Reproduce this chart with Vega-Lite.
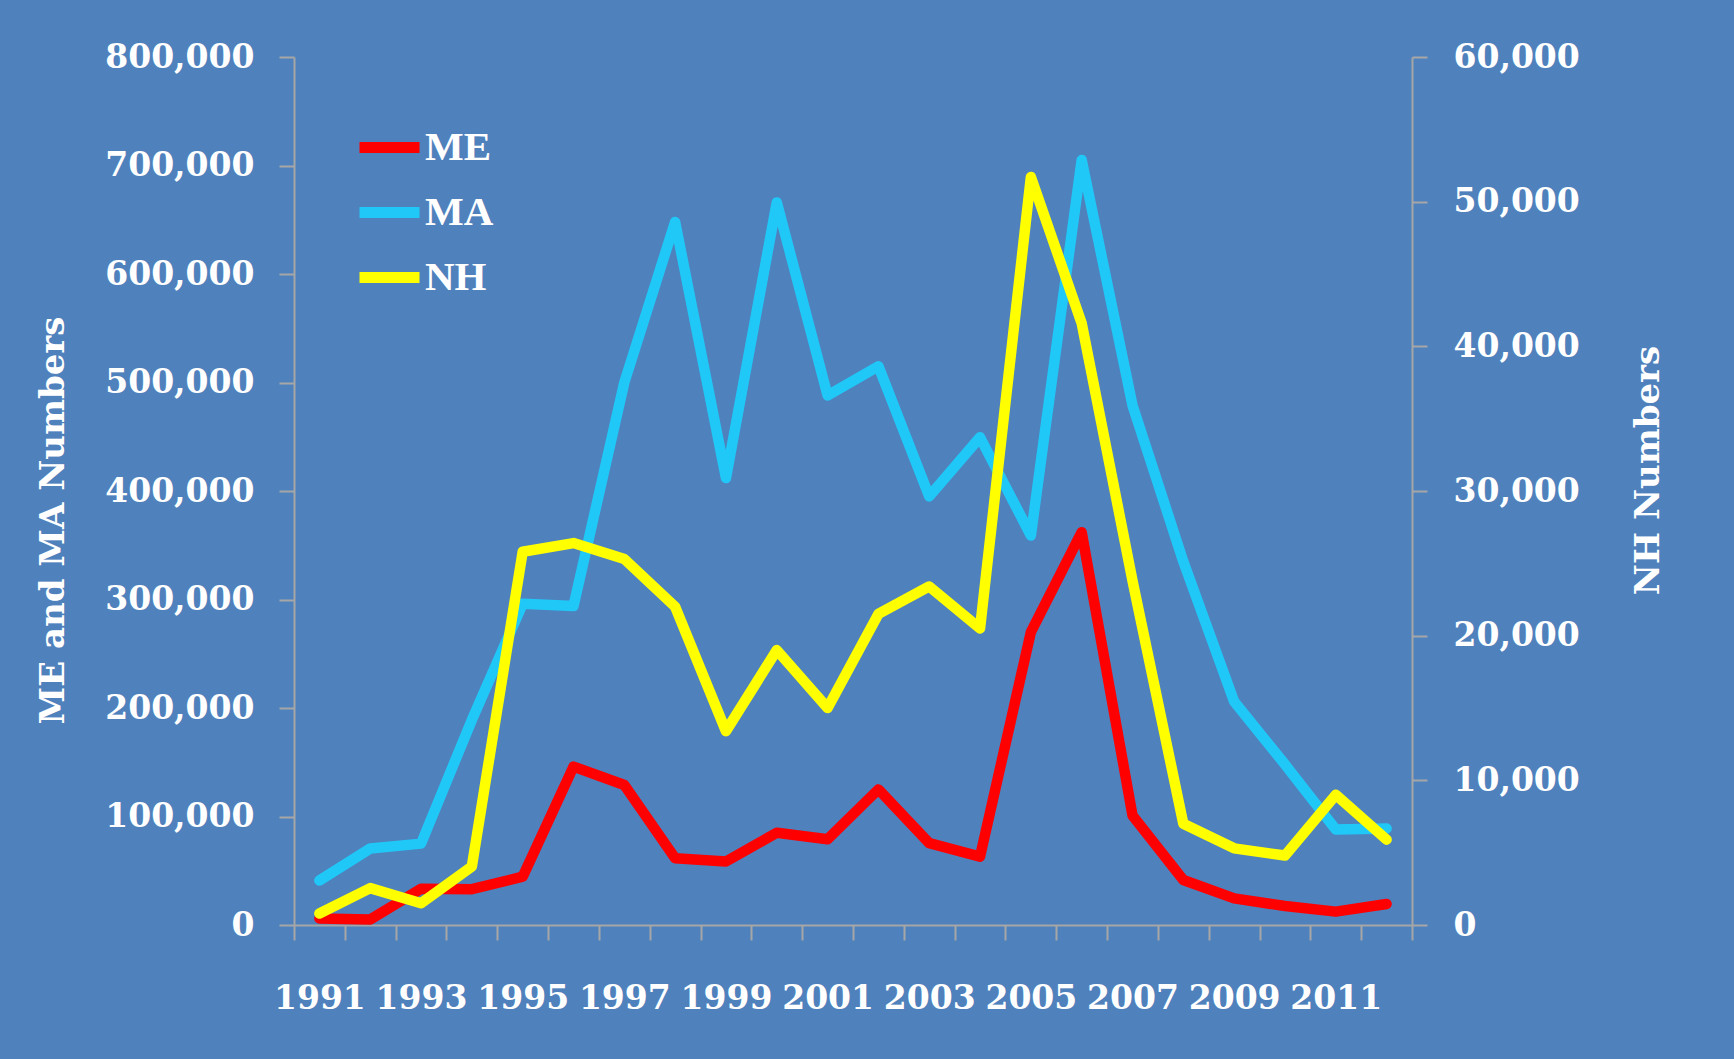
{
  "$schema": "https://vega.github.io/schema/vega-lite/v6.json",
  "width": 1118,
  "height": 868,
  "autosize": {"type": "none"},
  "padding": {"left": 294, "top": 57, "right": 322, "bottom": 134},
  "background": "#4F81BD",
  "config": {
    "view": {"stroke": null},
    "axis": {
      "domainColor": "#A6A6A6",
      "domainWidth": 2,
      "tickColor": "#A6A6A6",
      "tickWidth": 2,
      "tickSize": 15,
      "grid": false,
      "labelColor": "#FFFFFF",
      "labelFont": "DejaVu Serif",
      "labelFontWeight": "bold",
      "labelFontSize": 33,
      "titleColor": "#FFFFFF",
      "titleFont": "DejaVu Serif",
      "titleFontWeight": "bold",
      "titleFontSize": 34
    }
  },
  "data": {
    "values": [
      {"year": 1991, "series": "ME", "value": 6000},
      {"year": 1992, "series": "ME", "value": 5000},
      {"year": 1993, "series": "ME", "value": 33500},
      {"year": 1994, "series": "ME", "value": 33000},
      {"year": 1995, "series": "ME", "value": 44500},
      {"year": 1996, "series": "ME", "value": 146000},
      {"year": 1997, "series": "ME", "value": 129000},
      {"year": 1998, "series": "ME", "value": 61500},
      {"year": 1999, "series": "ME", "value": 58500},
      {"year": 2000, "series": "ME", "value": 85000},
      {"year": 2001, "series": "ME", "value": 79000},
      {"year": 2002, "series": "ME", "value": 125000},
      {"year": 2003, "series": "ME", "value": 75500},
      {"year": 2004, "series": "ME", "value": 63000},
      {"year": 2005, "series": "ME", "value": 270000},
      {"year": 2006, "series": "ME", "value": 362000},
      {"year": 2007, "series": "ME", "value": 101000},
      {"year": 2008, "series": "ME", "value": 41500},
      {"year": 2009, "series": "ME", "value": 24500},
      {"year": 2010, "series": "ME", "value": 17500},
      {"year": 2011, "series": "ME", "value": 12300},
      {"year": 2012, "series": "ME", "value": 19400},
      {"year": 1991, "series": "MA", "value": 41000},
      {"year": 1992, "series": "MA", "value": 70500},
      {"year": 1993, "series": "MA", "value": 75000},
      {"year": 1994, "series": "MA", "value": 189000},
      {"year": 1995, "series": "MA", "value": 296000},
      {"year": 1996, "series": "MA", "value": 294000},
      {"year": 1997, "series": "MA", "value": 500000},
      {"year": 1998, "series": "MA", "value": 648000},
      {"year": 1999, "series": "MA", "value": 412000},
      {"year": 2000, "series": "MA", "value": 666000},
      {"year": 2001, "series": "MA", "value": 488000},
      {"year": 2002, "series": "MA", "value": 515000},
      {"year": 2003, "series": "MA", "value": 395000},
      {"year": 2004, "series": "MA", "value": 449500},
      {"year": 2005, "series": "MA", "value": 359000},
      {"year": 2006, "series": "MA", "value": 705000},
      {"year": 2007, "series": "MA", "value": 479000},
      {"year": 2008, "series": "MA", "value": 335000},
      {"year": 2009, "series": "MA", "value": 206000},
      {"year": 2010, "series": "MA", "value": 148000},
      {"year": 2011, "series": "MA", "value": 88000},
      {"year": 2012, "series": "MA", "value": 89000},
      {"year": 1991, "series": "NH", "value": 800},
      {"year": 1992, "series": "NH", "value": 2550},
      {"year": 1993, "series": "NH", "value": 1500},
      {"year": 1994, "series": "NH", "value": 4050},
      {"year": 1995, "series": "NH", "value": 25800},
      {"year": 1996, "series": "NH", "value": 26400},
      {"year": 1997, "series": "NH", "value": 25300},
      {"year": 1998, "series": "NH", "value": 22000},
      {"year": 1999, "series": "NH", "value": 13400},
      {"year": 2000, "series": "NH", "value": 19000},
      {"year": 2001, "series": "NH", "value": 15000},
      {"year": 2002, "series": "NH", "value": 21500},
      {"year": 2003, "series": "NH", "value": 23400},
      {"year": 2004, "series": "NH", "value": 20500},
      {"year": 2005, "series": "NH", "value": 51700},
      {"year": 2006, "series": "NH", "value": 41600},
      {"year": 2007, "series": "NH", "value": 23800},
      {"year": 2008, "series": "NH", "value": 7000},
      {"year": 2009, "series": "NH", "value": 5300},
      {"year": 2010, "series": "NH", "value": 4800},
      {"year": 2011, "series": "NH", "value": 9000},
      {"year": 2012, "series": "NH", "value": 5900}
    ]
  },
  "encoding": {
    "x": {
      "field": "year",
      "type": "ordinal",
      "bandPosition": 0.5,
      "scale": {"type": "band", "paddingInner": 0, "paddingOuter": 0},
      "axis": {
        "title": null,
        "labelAngle": 0,
        "tickBand": "extent",
        "labelPadding": 42,
        "labelExpr": "datum.value % 2 == 1 ? datum.label : ''"
      }
    },
    "color": {
      "field": "series",
      "type": "nominal",
      "scale": {"domain": ["ME", "MA", "NH"], "range": ["#FF0000", "#20C8F8", "#FFFF00"]},
      "legend": {
        "title": null,
        "orient": "none",
        "legendX": 60,
        "legendY": 55,
        "direction": "vertical",
        "symbolType": "stroke",
        "symbolSize": 3600,
        "symbolStrokeWidth": 11,
        "labelFont": "Liberation Serif",
        "labelFontWeight": "bold",
        "labelFontSize": 41,
        "labelColor": "#FFFFFF",
        "labelOffset": 0,
        "rowPadding": 7
      }
    }
  },
  "layer": [
    {
      "transform": [{"filter": "datum.series != 'NH'"}],
      "mark": {"type": "line", "strokeWidth": 10.5, "strokeCap": "round", "strokeJoin": "round"},
      "encoding": {
        "y": {
          "field": "value",
          "type": "quantitative",
          "scale": {"domain": [0, 800000], "nice": false},
          "axis": {
            "title": "ME and MA Numbers",
            "values": [0, 100000, 200000, 300000, 400000, 500000, 600000, 700000, 800000],
            "format": ",d",
            "labelPadding": 25,
            "titleAngle": 270,
            "titleX": -241,
            "titleY": 463,
            "titleAlign": "center",
            "titleBaseline": "middle"
          }
        }
      }
    },
    {
      "transform": [{"filter": "datum.series == 'NH'"}],
      "mark": {"type": "line", "strokeWidth": 10.5, "strokeCap": "round", "strokeJoin": "round"},
      "encoding": {
        "y": {
          "field": "value",
          "type": "quantitative",
          "scale": {"domain": [0, 60000], "nice": false},
          "axis": {
            "orient": "right",
            "title": "NH Numbers",
            "values": [0, 10000, 20000, 30000, 40000, 50000, 60000],
            "format": ",d",
            "labelPadding": 26,
            "titleAngle": 270,
            "titleX": 236,
            "titleY": 413,
            "titleAlign": "center",
            "titleBaseline": "middle"
          }
        }
      }
    }
  ],
  "resolve": {"scale": {"y": "independent"}}
}
